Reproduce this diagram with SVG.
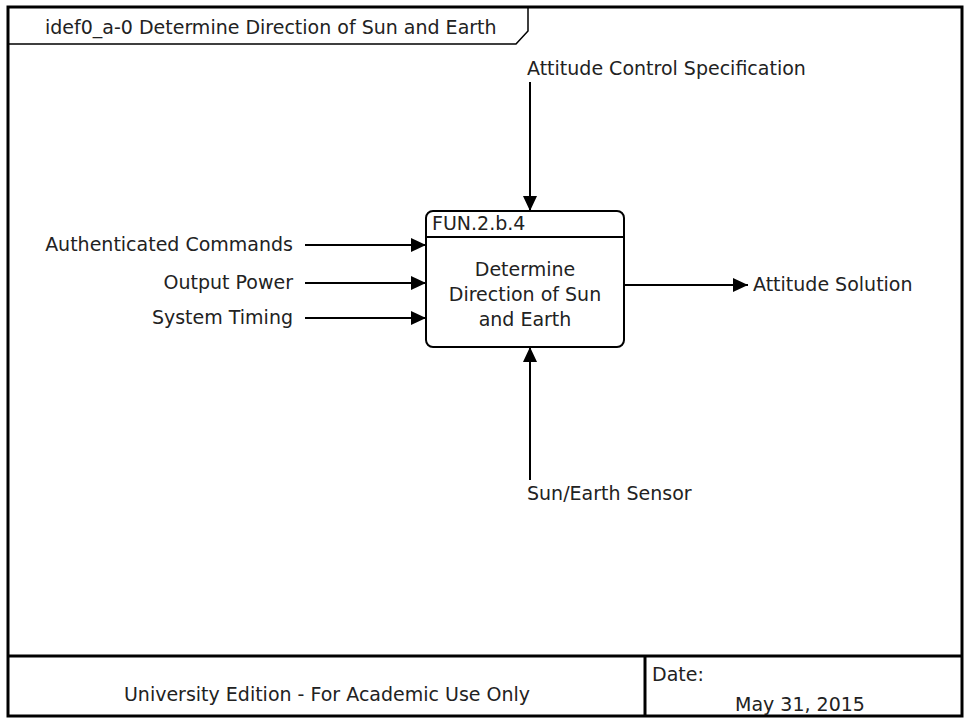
<svg xmlns="http://www.w3.org/2000/svg" width="969" height="719" viewBox="0 0 969 719">
<style>
text{font-family:"DejaVu Sans","Liberation Sans",sans-serif;font-size:19px;fill:#222}
.frame{fill:none;stroke:#000;stroke-width:3}
.thin{fill:none;stroke:#000;stroke-width:1.5}
.box{fill:none;stroke:#000;stroke-width:2}
.conn{fill:none;stroke:#000;stroke-width:2}
</style>
<defs>
<marker id="ah" viewBox="0 0 15 14" refX="15" refY="7" markerWidth="15" markerHeight="14" markerUnits="userSpaceOnUse" orient="auto">
<path d="M0,0 L15,7 L0,14 Z" fill="#000"/>
</marker>
</defs>
<rect x="0" y="0" width="969" height="719" fill="#fff"/>
<g id="frame">
<rect class="frame" x="8" y="7" width="954" height="709"/>
<path class="thin" d="M8,44 L516,44 L528,31 L528,7"/>
<text x="45" y="34">idef0_a-0 Determine Direction of Sun and Earth</text>
<line class="frame" x1="8" y1="656" x2="962" y2="656"/>
<line class="frame" x1="645" y1="656" x2="645" y2="716"/>
<text x="327" y="701" text-anchor="middle">University Edition - For Academic Use Only</text>
<text x="652" y="681">Date:</text>
<text x="735" y="711">May 31, 2015</text>
</g>
<g id="node-fun-2-b-4">
<rect class="box" x="426" y="211" width="198" height="136" rx="7"/>
<line class="box" x1="426" y1="237" x2="624" y2="237"/>
<text x="432" y="230">FUN.2.b.4</text>
<text x="525" y="276" text-anchor="middle">Determine</text>
<text x="525" y="301" text-anchor="middle">Direction of Sun</text>
<text x="525" y="326" text-anchor="middle">and Earth</text>
</g>
<g id="connectors">
<line class="conn" x1="530" y1="82" x2="530" y2="211" marker-end="url(#ah)"/>
<line class="conn" x1="305" y1="245" x2="426" y2="245" marker-end="url(#ah)"/>
<line class="conn" x1="305" y1="283" x2="426" y2="283" marker-end="url(#ah)"/>
<line class="conn" x1="305" y1="318" x2="426" y2="318" marker-end="url(#ah)"/>
<line class="conn" x1="624" y1="285" x2="748" y2="285" marker-end="url(#ah)"/>
<line class="conn" x1="530" y1="480" x2="530" y2="347" marker-end="url(#ah)"/>
</g>
<g id="labels">
<text x="527" y="75">Attitude Control Specification</text>
<text x="293" y="251" text-anchor="end">Authenticated Commands</text>
<text x="293" y="289" text-anchor="end">Output Power</text>
<text x="293" y="324" text-anchor="end">System Timing</text>
<text x="753" y="291">Attitude Solution</text>
<text x="527" y="500">Sun/Earth Sensor</text>
</g>
</svg>
